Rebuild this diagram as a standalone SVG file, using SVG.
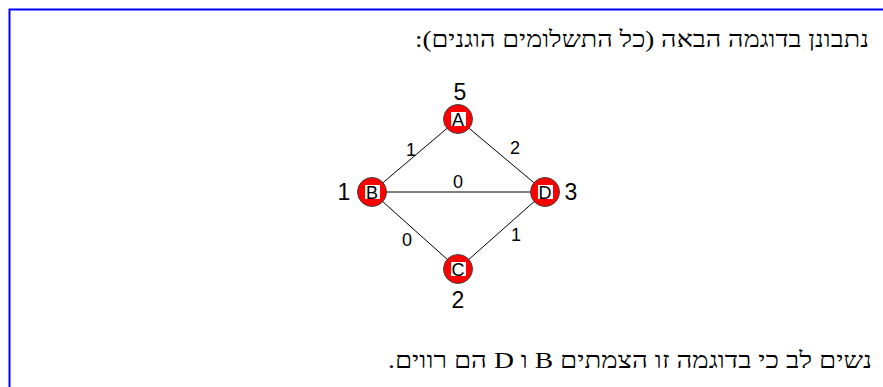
<svg xmlns="http://www.w3.org/2000/svg" width="883" height="387" viewBox="0 0 883 387">
<style>
.he{font-family:"Liberation Serif","DejaVu Serif",serif;font-size:23px;fill:#000;direction:rtl;unicode-bidi:embed}
.nd{fill:#ff0000;stroke:#444;stroke-width:1}
.lt{font-family:"Liberation Sans",Arial,sans-serif;font-size:18px;text-anchor:middle;fill:#000}
.num{font-family:"Liberation Sans",Arial,sans-serif;font-size:23px;text-anchor:middle;fill:#000}
.el{font-family:"Liberation Sans",Arial,sans-serif;font-size:18px;text-anchor:middle;fill:#000}
.bg{fill:#fff}
.edge{stroke:#000;stroke-width:1;fill:none}
</style>
<rect width="883" height="387" fill="#fff"/>
<path d="M9.5 400 V9.5 H900" fill="none" stroke="#0000ff" stroke-width="2"/>
<text class="he" x="869" y="47" text-anchor="start" textLength="454" lengthAdjust="spacingAndGlyphs">נתבונן בדוגמה הבאה (כל התשלומים הוגנים):</text>
<text class="he" x="872" y="368" text-anchor="start" textLength="484" lengthAdjust="spacingAndGlyphs">נשים לב כי בדוגמה זו הצמתים B ו D הם רווים.</text>
<g id="connectors">
<line class="edge" x1="458" y1="119" x2="372" y2="192"/>
<line class="edge" x1="458" y1="119" x2="545" y2="192"/>
<line class="edge" x1="372" y1="192" x2="545" y2="192"/>
<line class="edge" x1="372" y1="192" x2="458" y2="269"/>
<line class="edge" x1="545" y1="192" x2="458" y2="269"/>
<text class="el" x="411" y="156">1</text>
<text class="el" x="515" y="154">2</text>
<text class="el" x="458" y="188">0</text>
<text class="el" x="407" y="246">0</text>
<text class="el" x="516" y="241">1</text>
</g>
<g id="node-A">
<circle class="nd" cx="458" cy="119" r="14.5"/>
<rect class="bg" x="451" y="112" width="15" height="14"/>
<text class="lt" x="458" y="125.5">A</text>
<text class="num" x="460" y="100">5</text>
</g>
<g id="node-B">
<circle class="nd" cx="372" cy="192" r="14.5"/>
<rect class="bg" x="365" y="185" width="15" height="14"/>
<text class="lt" x="372" y="198.5">B</text>
<text class="num" x="344" y="200">1</text>
</g>
<g id="node-D">
<circle class="nd" cx="545" cy="192" r="14.5"/>
<rect class="bg" x="538" y="185" width="15" height="14"/>
<text class="lt" x="545" y="198.5">D</text>
<text class="num" x="571" y="200">3</text>
</g>
<g id="node-C">
<circle class="nd" cx="458" cy="269" r="14.5"/>
<rect class="bg" x="451" y="262" width="15" height="14"/>
<text class="lt" x="458" y="275.5">C</text>
<text class="num" x="458" y="308">2</text>
</g>
</svg>
